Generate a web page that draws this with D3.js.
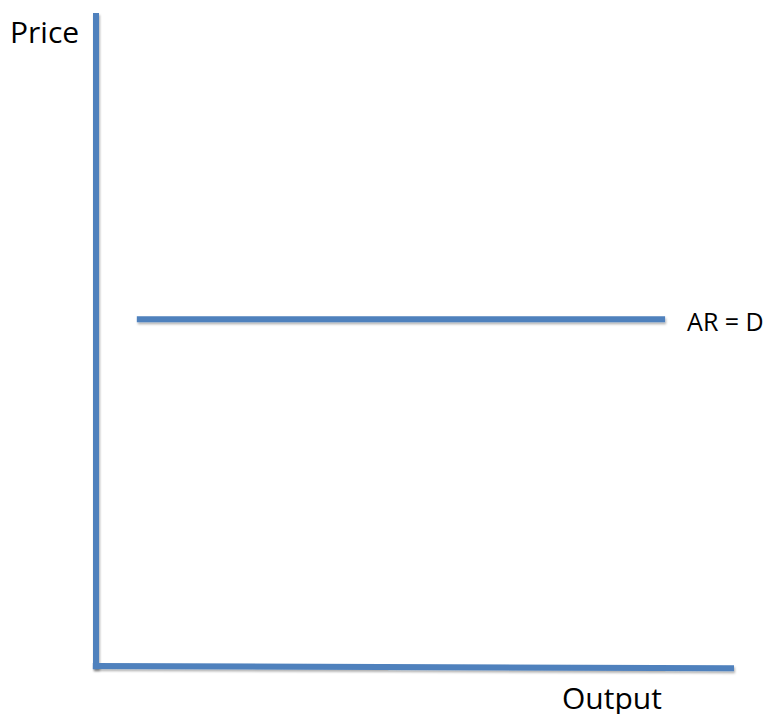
<!DOCTYPE html>
<html>
<head>
<meta charset="utf-8">
<script src="https://cdn.jsdelivr.net/npm/d3@7"></script>
<style>
  body { margin: 0; background: #fff; }
  text { font-family: 'Open Sans', sans-serif; fill: #000; }
</style>
</head>
<body>
<script>
// quantity / price units
const yAxisPts = [[0, -0.05], [0, 10]];
const xAxisPts = [[-0.05, 0], [10, -0.035]];
const arPts = [[0.64, 5.31], [8.92, 5.31]];
const labels = ['Price', 'Output', 'AR = D'];

const width = 767;
const height = 714;

const svg = d3.select('body').append('svg')
  .attr('width', width)
  .attr('height', height);

// user space units so zero-height lines still get the shadow
const defs = svg.append('defs');
defs.append('filter')
  .attr('id', 'shadow')
  .attr('filterUnits', 'userSpaceOnUse')
  .attr('x', 0).attr('y', 0)
  .attr('width', width).attr('height', height)
  .append('feDropShadow')
  .attr('dx', 1)
  .attr('dy', 2)
  .attr('stdDeviation', 1.2)
  .attr('flood-color', '#000')
  .attr('flood-opacity', 0.3);

const x = d3.scaleLinear().domain([0, 10]).range([96, 734]);
const y = d3.scaleLinear().domain([0, 10]).range([666, 13]);

const line = d3.line()
  .x(d => x(d[0]))
  .y(d => y(d[1]));

const blue = '#4f81bd';

[yAxisPts, xAxisPts, arPts].forEach((pts) => {
  svg.append('path')
    .attr('d', line(pts))
    .attr('stroke', blue)
    .attr('stroke-width', 6)
    .attr('fill', 'none')
    .attr('filter', 'url(#shadow)');
});

// Price label, left of the y axis top
svg.append('text')
  .attr('x', 10)
  .attr('y', 43)
  .attr('font-size', 30)
  .text(labels[0]);

// Output label under the x axis
svg.append('text')
  .attr('x', 562)
  .attr('y', 709)
  .attr('font-size', 30)
  .text(labels[1]);

// AR = D label at right end of the line
svg.append('text')
  .attr('x', x(arPts[1][0]) + 22)
  .attr('y', y(arPts[1][1]) + 12)
  .attr('font-size', 25)
  .text(labels[2]);
</script>
</body>
</html>
